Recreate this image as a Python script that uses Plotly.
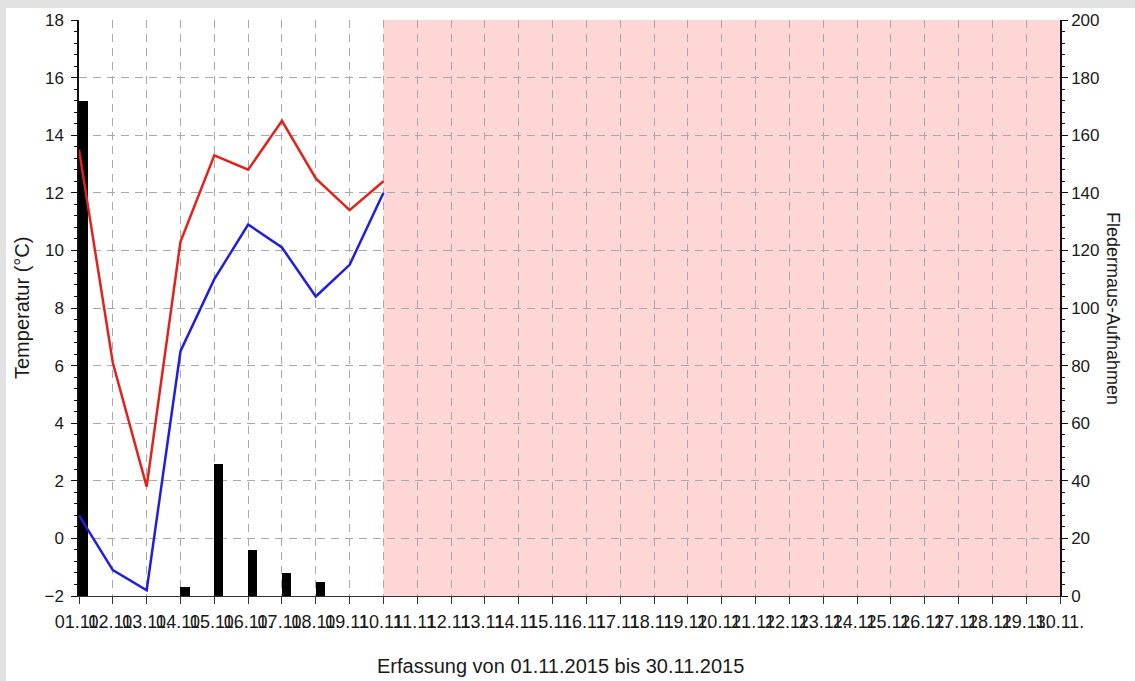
import plotly.graph_objects as go

# Days of November 2015 (axis categories)
day_labels = [f"{d:02d}.11." for d in range(1, 31)]

# Daily temperatures for the recorded days (°C)
temp_max = [13.5, 6.1, 1.8, 10.3, 13.3, 12.8, 14.5, 12.5, 11.4, 12.4]
temp_min = [0.8, -1.1, -1.8, 6.5, 9.0, 10.9, 10.1, 8.4, 9.5, 12.0]

# Bat recordings per day
recordings = [172, 0, 0, 3, 46, 16, 8, 5, 0, 0]

# First day without data (start of shaded region)
no_data_from = 9

FONT = "Liberation Sans, Arial, sans-serif"
GRID = "#a8a8a8"
x_idx = list(range(len(day_labels)))

fig = go.Figure()

fig.add_trace(go.Bar(
    x=x_idx[:len(recordings)], y=recordings, yaxis="y",
    width=0.27, offset=0.0,
    marker=dict(color="black", line=dict(width=0)),
    showlegend=False, hoverinfo="y",
))
fig.add_trace(go.Scatter(
    x=x_idx[:len(temp_max)], y=temp_max, yaxis="y2", mode="lines",
    line=dict(color="#e3211c", width=2.5), showlegend=False,
))
fig.add_trace(go.Scatter(
    x=x_idx[:len(temp_min)], y=temp_min, yaxis="y2", mode="lines",
    line=dict(color="#1f1fdc", width=2.5), showlegend=False,
))

fig.update_layout(
    width=1135, height=681,
    margin=dict(l=79, r=75, t=20, b=85),
    paper_bgcolor="white", plot_bgcolor="white",
    font=dict(family=FONT, size=17, color="#1a1a1a"),
    bargap=0,
    xaxis=dict(
        range=[0, len(day_labels) - 1],
        tickmode="array", tickvals=x_idx, ticktext=day_labels,
        tickangle=0, ticks="outside", ticklen=7, tickcolor="#333",
        showgrid=True, gridcolor=GRID, griddash="8px,6px", gridwidth=1,
        showline=True, linecolor="#333", linewidth=1,
        zeroline=False, fixedrange=True,
        tickfont=dict(size=18), ticklabelstandoff=2,
    ),
    # Recordings axis (right)
    yaxis=dict(
        side="right", range=[0, 200], dtick=20, tick0=0,
        ticks="outside", ticklen=6, tickcolor="#111",
        minor=dict(dtick=4, ticks="outside", ticklen=3, tickcolor="#111", showgrid=False),
        showgrid=True, gridcolor=GRID, griddash="8px,6px", gridwidth=1,
        showline=True, linecolor="#111", linewidth=1.5,
        zeroline=False, ticklabelstandoff=0,
        tickfont=dict(size=17),
    ),
    # Temperature axis (left)
    yaxis2=dict(
        overlaying="y", side="left", range=[-2, 18], dtick=2, tick0=0,
        ticks="outside", ticklen=6, tickcolor="#111",
        minor=dict(dtick=0.4, ticks="outside", ticklen=3, tickcolor="#111", showgrid=False),
        showgrid=False, showline=True, linecolor="#111", linewidth=1.5,
        zeroline=False, ticklabelstandoff=4,
        tickfont=dict(size=17),
    ),
    shapes=[
        # period without data
        dict(type="rect", xref="x", yref="y", x0=no_data_from, x1=len(day_labels) - 1,
             y0=0, y1=200, fillcolor="#ffd6d6", line=dict(width=0), layer="below"),
        # frame bands along the top and left edge
        dict(type="rect", xref="paper", yref="paper",
             x0=-79 / 981, x1=1.08, y0=1 + 12 / 576, y1=1 + 20 / 576,
             fillcolor="#e2e2e2", line=dict(width=0), layer="above"),
        dict(type="rect", xref="paper", yref="paper",
             x0=-79 / 981, x1=-73 / 981, y0=-85 / 576, y1=1 + 20 / 576,
             fillcolor="#e2e2e2", line=dict(width=0), layer="above"),
    ],
    annotations=[
        dict(text="Temperatur (°C)", xref="paper", yref="paper",
             x=-57 / 981, y=0.5, textangle=-90, showarrow=False,
             xanchor="center", yanchor="middle", font=dict(size=20)),
        dict(text="Fledermaus-Aufnahmen", xref="paper", yref="paper",
             x=1 + 53 / 981, y=0.5, textangle=90, showarrow=False,
             xanchor="center", yanchor="middle", font=dict(size=18)),
        dict(text="Erfassung von 01.11.2015 bis 30.11.2015", xref="paper", yref="paper",
             x=(560 - 79) / 981, y=-(666 - 596) / 576, showarrow=False,
             xanchor="center", yanchor="middle", font=dict(size=20)),
    ],
)

fig.write_html("out.html")
